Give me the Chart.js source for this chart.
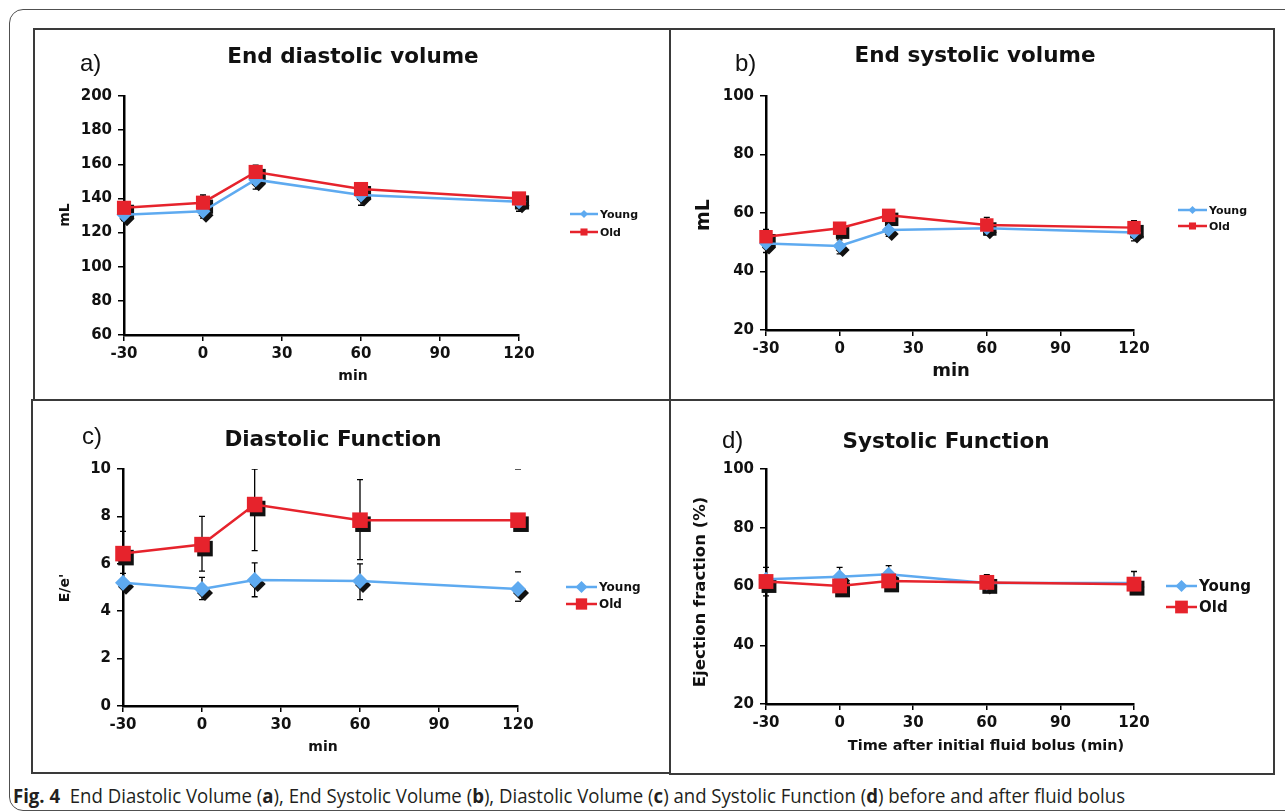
<!DOCTYPE html>
<html>
<head>
<meta charset="utf-8">
<script src="https://cdn.jsdelivr.net/npm/chart.js@4.4.1/dist/chart.umd.min.js"></script>
<style>
  html, body { margin: 0; padding: 0; background: #fff; }
  body { width: 1285px; height: 812px; position: relative; overflow: hidden; }
  #frame { position: absolute; left: 9px; top: 9px; width: 1330px; height: 800px;
           border: 1.5px solid #505050; border-radius: 14px; }
  .panel { position: absolute; border: 2px solid #3a3a3a; box-sizing: border-box; }
  canvas { position: absolute; }
  #caption { position: absolute; left: 13px; top: 782px; white-space: nowrap;
             font-family: "Liberation Sans Narrow", "Open Sans", sans-serif; font-size: 20px;
             color: #231f20; transform-origin: 0 0; }
</style>
</head>
<body>
<div id="frame"></div>
<div id="caption"><b>Fig. 4</b>&nbsp; End Diastolic Volume (<b>a</b>), End Systolic Volume (<b>b</b>), Diastolic Volume (<b>c</b>) and Systolic Function (<b>d</b>) before and after fluid bolus</div>

<script>
// --- DATA ---
const TIMES = [-30, 0, 20, 60, 120];
const X_AXIS = [-30, 120, 30];          // min, max, step
const SERIES = ['Young', 'Old'];

// a) end diastolic volume, mL
const EDV_AXIS = [60, 200, 20];
const EDV_YOUNG = [130.5, 132.5, 151, 142, 138];
const EDV_OLD = [134.5, 137.5, 155.5, 145.5, 140];
const EDV_YOUNG_HI = [null, null, null, null, null];
const EDV_YOUNG_LO = [127, 128.5, 145.5, 136, 132.5];
const EDV_OLD_HI = [138, 142, 159.5, 148, 143];
const EDV_OLD_LO = [null, null, null, null, null];

// b) end systolic volume, mL
const ESV_AXIS = [20, 100, 20];
const ESV_YOUNG = [49.6, 48.7, 54.2, 54.8, 53.3];
const ESV_OLD = [51.9, 54.8, 59.2, 55.9, 55];
const ESV_YOUNG_HI = [null, 50.8, null, null, null];
const ESV_YOUNG_LO = [46.5, 46, 52, 52.5, 50.5];
const ESV_OLD_HI = [54.4, 56.5, 61, 58.5, 57.4];
const ESV_OLD_LO = [null, null, null, null, null];

// c) diastolic function, E/e'
const EE_AXIS = [0, 10, 2];
const EE_YOUNG = [5.2, 4.94, 5.32, 5.27, 4.94];
const EE_OLD = [6.43, 6.81, 8.5, 7.84, 7.84];
const EE_YOUNG_HI = [5.6, 5.43, 6.04, 6.0, 5.66];
const EE_YOUNG_LO = [null, 4.49, 4.61, 4.49, 4.42];
const EE_OLD_HI = [7.37, 8.0, 10, 9.55, 10];
const EE_OLD_LO = [null, 5.69, 6.56, 6.18, null];

// d) systolic function, ejection fraction %
const EF_AXIS = [20, 100, 20];
const EF_YOUNG = [62.5, 63.3, 64.2, 61.2, 61.2];
const EF_OLD = [61.7, 60.2, 61.9, 61.4, 60.8];
const EF_YOUNG_HI = [66.5, 66.5, 67.1, null, 65.1];
const EF_YOUNG_LO = [null, null, null, null, null];
const EF_OLD_HI = [null, null, null, 64, null];
const EF_OLD_LO = [56.8, null, null, null, null];

const PANEL_LABELS = ['a)', 'b)', 'c)', 'd)'];
const TITLES = ['End diastolic volume', 'End systolic volume', 'Diastolic Function', 'Systolic Function'];
const Y_TITLES = ['mL', 'mL', "E/e'", 'Ejection fraction (%)'];
const X_TITLES = ['min', 'min', 'min', 'Time after initial fluid bolus (min)'];

// --- STYLE / LAYOUT ---
const BLUE = '#5eaaf0';
const RED = '#e6232c';
const YW = 60, XH = 40;   // fixed axis sizes

const panels = [
  { box: [33, 28, 638, 373], area: [124, 96, 519, 335], axis: EDV_AXIS,
    young: EDV_YOUNG, old: EDV_OLD, hi: [EDV_YOUNG_HI, EDV_OLD_HI], lo: [EDV_YOUNG_LO, EDV_OLD_LO],
    r: [7.5, 10], tick: 15, label: [80, 64], title: [353, 57], ytitle: [65, 215, 14], xtitle: [353, 376, 14],
    legend: { x0: 570, x1: 598, y: [214, 232], size: 11, r: [4, 5] } },
  { box: [669, 28, 606, 373], area: [766, 96, 1134, 330], axis: ESV_AXIS,
    young: ESV_YOUNG, old: ESV_OLD, hi: [ESV_YOUNG_HI, ESV_OLD_HI], lo: [ESV_YOUNG_LO, ESV_OLD_LO],
    r: [7, 9.5], tick: 15, label: [735, 64], title: [975, 56], ytitle: [704, 215, 19], xtitle: [951, 371, 18],
    legend: { x0: 1178, x1: 1207, y: [210, 226], size: 11, r: [4, 5] } },
  { box: [31, 399, 640, 375], area: [123, 469, 518, 706], axis: EE_AXIS,
    young: EE_YOUNG, old: EE_OLD, hi: [EE_YOUNG_HI, EE_OLD_HI], lo: [EE_YOUNG_LO, EE_OLD_LO], capsOnly: [4],
    r: [8, 11], tick: 15, label: [82, 437], title: [333, 440], ytitle: [65, 588, 14], xtitle: [323, 747, 14],
    legend: { x0: 566, x1: 597, y: [587, 604], size: 12, r: [6, 8] } },
  { box: [669, 399, 606, 376], area: [766, 469, 1134, 704], axis: EF_AXIS,
    young: EF_YOUNG, old: EF_OLD, hi: [EF_YOUNG_HI, EF_OLD_HI], lo: [EF_YOUNG_LO, EF_OLD_LO],
    r: [7.5, 10.5], tick: 15, label: [722, 441], title: [946, 442], ytitle: [701, 592, 16.5], xtitle: [986, 746, 14.5],
    legend: { x0: 1166, x1: 1197, y: [586, 607], size: 15, r: [6, 9] } }
];

// error bars + marker shadows under the series, titles and legend on top
const decor = {
  id: 'decor',
  beforeDatasetsDraw(chart, args, o) {
    const ctx = chart.ctx, xs = chart.scales.x, ys = chart.scales.y, ca = chart.chartArea;
    ctx.save();
    ctx.beginPath();
    ctx.rect(ca.left - 30, ca.top, ca.width + 60, ca.height + 30);
    ctx.clip();
    ctx.strokeStyle = '#000';
    ctx.lineWidth = 1.3;
    chart.data.datasets.forEach(ds => {
      TIMES.forEach((t, k) => {
        const px = xs.getPixelForValue(t), py = ys.getPixelForValue(ds.data[k].y);
        [ds.errHi[k], ds.errLo[k]].forEach(v => {
          if (v == null) return;
          const ey = ys.getPixelForValue(v);
          ctx.beginPath();
          if (!o.capsOnly.includes(k)) { ctx.moveTo(px, py); ctx.lineTo(px, ey); }
          ctx.moveTo(px - 3, ey); ctx.lineTo(px + 3, ey);
          ctx.stroke();
        });
      });
    });
    ctx.fillStyle = '#111';
    ctx.strokeStyle = '#111';
    chart.data.datasets.forEach((ds, i) => {
      chart.getDatasetMeta(i).data.forEach(pt => {
        Chart.helpers.drawPoint(ctx, { pointStyle: ds.pointStyle, radius: ds.pointRadius, rotation: 0, borderWidth: 0 }, pt.x + 3, pt.y + 4);
      });
    });
    ctx.restore();
  },
  afterDraw(chart, args, o) {
    const ctx = chart.ctx, ox = o.ox, oy = o.oy;
    ctx.save();
    ctx.fillStyle = '#111';
    ctx.textBaseline = 'middle';
    // panel letter
    ctx.font = '24px "Liberation Sans", Arial, sans-serif';
    ctx.textAlign = 'left';
    ctx.fillText(o.label, o.labelPos[0] - ox, o.labelPos[1] - oy);
    // title
    ctx.font = 'bold 21.5px "DejaVu Sans", sans-serif';
    ctx.textAlign = 'center';
    ctx.fillText(o.title, o.titlePos[0] - ox, o.titlePos[1] - oy);
    // axis titles
    ctx.font = `bold ${o.xtitle[2]}px "DejaVu Sans", sans-serif`;
    ctx.fillText(o.xText, o.xtitle[0] - ox, o.xtitle[1] - oy);
    ctx.save();
    ctx.translate(o.ytitle[0] - ox, o.ytitle[1] - oy);
    ctx.rotate(-Math.PI / 2);
    ctx.font = `bold ${o.ytitle[2]}px "DejaVu Sans", sans-serif`;
    ctx.fillText(o.yText, 0, 0);
    ctx.restore();
    // legend
    const L = o.legend;
    chart.data.datasets.forEach((ds, i) => {
      const y = L.y[i] - oy;
      ctx.strokeStyle = ds.borderColor;
      ctx.lineWidth = 2.5;
      ctx.beginPath();
      ctx.moveTo(L.x0 - ox, y); ctx.lineTo(L.x1 - ox, y);
      ctx.stroke();
      ctx.fillStyle = ds.borderColor;
      Chart.helpers.drawPoint(ctx, { pointStyle: ds.pointStyle, radius: L.r[i], rotation: 0, borderWidth: 0 }, (L.x0 + L.x1) / 2 - ox, y);
      ctx.fillStyle = '#111';
      ctx.textAlign = 'left';
      ctx.font = `bold ${L.size}px "DejaVu Sans", sans-serif`;
      ctx.fillText(ds.label, L.x1 + 2 - ox, y + 1);
    });
    ctx.restore();
  }
};

function makePanel(p, i) {
  const div = document.createElement('div');
  div.className = 'panel';
  Object.assign(div.style, { left: p.box[0] + 'px', top: p.box[1] + 'px', width: p.box[2] + 'px', height: p.box[3] + 'px' });
  document.body.appendChild(div);

  const cv = document.createElement('canvas');
  cv.width = p.box[2];
  cv.height = p.box[3];
  cv.style.left = p.box[0] + 'px';
  cv.style.top = p.box[1] + 'px';
  document.body.appendChild(cv);

  const pad = {
    left: p.area[0] - p.box[0] - YW,
    top: p.area[1] - p.box[1],
    right: p.box[0] + p.box[2] - p.area[2],
    bottom: p.box[1] + p.box[3] - p.area[3] - XH
  };
  const tickFont = { family: '"DejaVu Sans", sans-serif', weight: 'bold', size: p.tick };
  const grid = { drawOnChartArea: false, drawTicks: true, tickLength: 6, color: '#000', lineWidth: 1.5 };
  const border = { color: '#000', width: 2.5 };

  new Chart(cv, {
    type: 'line',
    data: {
      datasets: [
        { label: SERIES[0], data: TIMES.map((t, k) => ({ x: t, y: p.young[k] })),
          borderColor: BLUE, backgroundColor: BLUE, pointBackgroundColor: BLUE,
          pointStyle: 'rectRot', pointRadius: p.r[0], pointBorderWidth: 0, borderWidth: 2.5,
          tension: 0, order: 1, clip: false, errHi: p.hi[0], errLo: p.lo[0] },
        { label: SERIES[1], data: TIMES.map((t, k) => ({ x: t, y: p.old[k] })),
          borderColor: RED, backgroundColor: RED, pointBackgroundColor: RED,
          pointStyle: 'rect', pointRadius: p.r[1], pointBorderWidth: 0, borderWidth: 2.5,
          tension: 0, order: 0, clip: false, errHi: p.hi[1], errLo: p.lo[1] }
      ]
    },
    options: {
      responsive: false,
      animation: false,
      events: [],
      layout: { padding: pad },
      plugins: {
        legend: { display: false },
        tooltip: { enabled: false },
        decor: {
          ox: p.box[0], oy: p.box[1], label: PANEL_LABELS[i], labelPos: p.label,
          title: TITLES[i], titlePos: p.title, yText: Y_TITLES[i], ytitle: p.ytitle,
          xText: X_TITLES[i], xtitle: p.xtitle, legend: p.legend, capsOnly: p.capsOnly || []
        }
      },
      scales: {
        x: { type: 'linear', min: X_AXIS[0], max: X_AXIS[1], grid, border,
             ticks: { stepSize: X_AXIS[2], font: tickFont, color: '#111', padding: 4, autoSkip: false, maxRotation: 0 },
             afterFit: s => { s.height = XH; } },
        y: { type: 'linear', min: p.axis[0], max: p.axis[1], grid, border,
             ticks: { stepSize: p.axis[2], font: tickFont, color: '#111', padding: 6 },
             afterFit: s => { s.width = YW; } }
      }
    },
    plugins: [decor]
  });
}

panels.forEach(makePanel);

// fit caption to the reference width
const cap = document.getElementById('caption');
cap.style.transform = `scaleX(${1112 / cap.getBoundingClientRect().width})`;
</script>
</body>
</html>
